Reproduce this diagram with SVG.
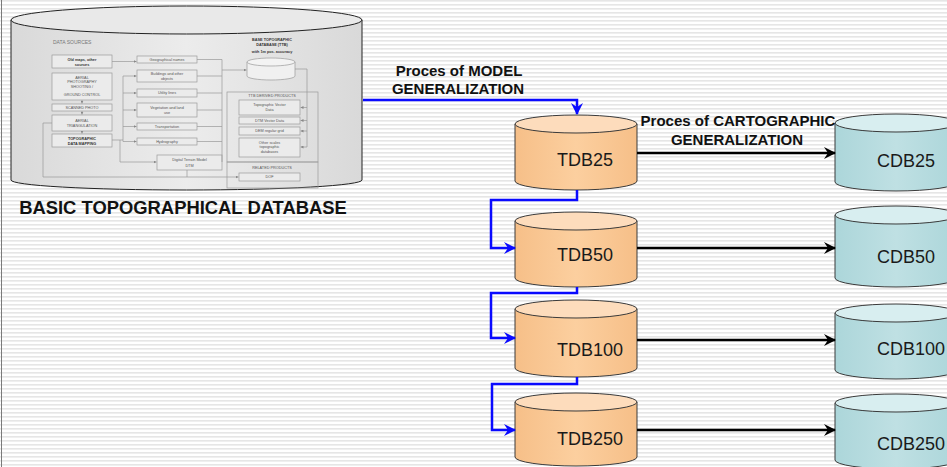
<svg xmlns="http://www.w3.org/2000/svg" width="947" height="467" viewBox="0 0 947 467">
<defs>
<pattern id="stripes" x="0" y="0" width="8" height="4" patternUnits="userSpaceOnUse">
<rect x="0" y="0" width="8" height="4" fill="#ffffff"/>
<rect x="0" y="0" width="8" height="1.6" fill="#e6e6e6"/>
</pattern>
<linearGradient id="gBig" x1="0" y1="0" x2="1" y2="0">
<stop offset="0" stop-color="#d9d9d9"/>
<stop offset="0.5" stop-color="#ececec"/>
<stop offset="1" stop-color="#d9d9d9"/>
</linearGradient>
<linearGradient id="gT" x1="0" y1="0" x2="1" y2="0">
<stop offset="0" stop-color="#f6bf88"/>
<stop offset="0.5" stop-color="#fccf9f"/>
<stop offset="1" stop-color="#f6bf88"/>
</linearGradient>
<linearGradient id="gC" x1="0" y1="0" x2="1" y2="0">
<stop offset="0" stop-color="#acd6da"/>
<stop offset="0.5" stop-color="#bfe0e3"/>
<stop offset="1" stop-color="#acd6da"/>
</linearGradient>
<marker id="ab" viewBox="0 0 12 12" refX="11" refY="6" markerWidth="13" markerHeight="12" markerUnits="userSpaceOnUse" orient="auto">
<path d="M0,0 L12,6 L0,12 L4,6 Z" fill="#0a0aff"/>
</marker>
<marker id="ak" viewBox="0 0 12 12" refX="11" refY="6" markerWidth="13" markerHeight="12" markerUnits="userSpaceOnUse" orient="auto">
<path d="M0,0 L12,6 L0,12 L4,6 Z" fill="#000"/>
</marker>
<marker id="as" viewBox="0 0 6 6" refX="6" refY="3" markerWidth="3" markerHeight="3" markerUnits="userSpaceOnUse" orient="auto">
<path d="M0,0 L6,3 L0,6 Z" fill="#888"/>
</marker>
<style>
.lbl{font-family:"Liberation Sans",Arial,sans-serif;font-weight:bold;fill:#111;}
.db{font-family:"Liberation Sans",Arial,sans-serif;font-size:18px;fill:#1a1a1a;}
.tcyl{stroke:#3a3a3a;stroke-width:1;}
.in{fill:#ebebeb;stroke:#9a9a9a;stroke-width:0.7;}
.it{font-family:"Liberation Sans",Arial,sans-serif;font-size:3.8px;fill:#555;text-anchor:middle;}
.itb{font-family:"Liberation Sans",Arial,sans-serif;font-size:3.8px;fill:#333;font-weight:bold;text-anchor:middle;}
.il{fill:none;stroke:#9a9a9a;stroke-width:0.7;}
.blue{fill:none;stroke:#0a0aff;stroke-width:2.5;}
.blk{fill:none;stroke:#000;stroke-width:2.5;}
</style>
</defs>

<rect x="0" y="0" width="947" height="467" fill="url(#stripes)"/>
<line x1="1.5" y1="0" x2="1.5" y2="467" stroke="#7a7a7a" stroke-width="1"/>

<g id="basic-db">
<path d="M11,20 V180 A175.5,10 0 0 0 362,180 V20 Z" fill="url(#gBig)" stroke="#222" stroke-width="1"/>
<ellipse cx="186.5" cy="20" rx="175.5" ry="14" fill="#e9e9e9" stroke="#222" stroke-width="1"/>
<g id="inner-diagram">
<text x="53" y="44" font-family="Liberation Sans, Arial, sans-serif" font-size="5" fill="#777">DATA SOURCES</text>
<text x="272" y="41" class="itb">BASE TOPOGRAPHIC</text>
<text x="272" y="46" class="itb">DATABASE (TTB)</text>
<text x="272" y="53" class="itb">with 1m pos. accuracy</text>

<rect class="in" x="52" y="55" width="60" height="13"/>
<text class="itb" x="82" y="60.5">Old maps, other</text>
<text class="itb" x="82" y="65.5">sources</text>
<rect class="in" x="52" y="73" width="60" height="27"/>
<text class="it" x="82" y="78.5">AERIAL</text>
<text class="it" x="82" y="83">PHOTOGRAPHY</text>
<text class="it" x="82" y="87.5">SHOOTING /</text>
<text class="it" x="82" y="96">GROUND CONTROL</text>
<rect class="in" x="52" y="104" width="60" height="7"/>
<text class="it" x="82" y="109">SCANNED PHOTO</text>
<rect class="in" x="52" y="115" width="60" height="16"/>
<text class="it" x="82" y="121.5">AERIAL</text>
<text class="it" x="82" y="127">TRIANGULATION</text>
<rect class="in" x="52" y="134" width="60" height="13"/>
<text class="itb" x="82" y="139.5">TOPOGRAPHIC</text>
<text class="itb" x="82" y="144.5">DATA MAPPING</text>

<rect class="in" x="137" y="56" width="60" height="7"/>
<text class="it" x="167" y="61">Geographical names</text>
<rect class="in" x="137" y="70" width="60" height="12"/>
<text class="it" x="167" y="75">Buildings and other</text>
<text class="it" x="167" y="79.5">objects</text>
<rect class="in" x="137" y="89" width="60" height="8"/>
<text class="it" x="167" y="94.3">Utility lines</text>
<rect class="in" x="137" y="103" width="60" height="14"/>
<text class="it" x="167" y="108.5">Vegetation and land</text>
<text class="it" x="167" y="113.5">use</text>
<rect class="in" x="137" y="123" width="60" height="7"/>
<text class="it" x="167" y="128">Transportation</text>
<rect class="in" x="137" y="138" width="60" height="7"/>
<text class="it" x="167" y="143">Hydrography</text>
<rect class="in" x="157" y="155" width="65" height="15"/>
<text class="it" x="189.5" y="160.5">Digital Terrain Model</text>
<text class="it" x="189.5" y="167">DTM</text>

<path d="M247,62 V76 A24,4 0 0 0 295,76 V62 Z" fill="#f0f0f0" stroke="#9a9a9a" stroke-width="0.7"/>
<ellipse cx="271" cy="62" rx="24" ry="4" fill="#f3f3f3" stroke="#9a9a9a" stroke-width="0.7"/>

<rect x="227" y="92" width="91" height="70" fill="none" stroke="#9a9a9a" stroke-width="0.7"/>
<text class="it" x="272" y="96.5" font-size="3.3">TTB DERIVED PRODUCTS</text>
<rect class="in" x="239" y="100" width="61" height="15"/>
<text class="it" x="269.5" y="106">Topographic Vector</text>
<text class="it" x="269.5" y="111">Data</text>
<rect class="in" x="239" y="117" width="61" height="7"/>
<text class="it" x="269.5" y="122">DTM Vector Data</text>
<rect class="in" x="239" y="127" width="61" height="8"/>
<text class="it" x="269.5" y="132.3">DEM regular grid</text>
<rect class="in" x="239" y="138" width="61" height="19"/>
<text class="it" x="269.5" y="143.5">Other scales</text>
<text class="it" x="269.5" y="148">topographic</text>
<text class="it" x="269.5" y="152.5">databases</text>
<rect x="227" y="162" width="91" height="26" fill="none" stroke="#9a9a9a" stroke-width="0.7"/>
<text class="it" x="272" y="169" font-size="3.3">RELATED PRODUCTS</text>
<rect class="in" x="239" y="173" width="61" height="8"/>
<text class="it" x="269.5" y="178.3">DOF</text>

<path class="il" d="M82,100 V103.5" marker-end="url(#as)"/>
<path class="il" d="M82,111 V114.5" marker-end="url(#as)"/>
<path class="il" d="M82,131 V133.5" marker-end="url(#as)"/>
<path class="il" d="M112,61.5 H136.5" marker-end="url(#as)"/>
<path class="il" d="M112,140 H123 M123,76 V141.5"/>
<path class="il" d="M123,76 H136.5" marker-end="url(#as)"/>
<path class="il" d="M123,93 H136.5" marker-end="url(#as)"/>
<path class="il" d="M123,110 H136.5" marker-end="url(#as)"/>
<path class="il" d="M123,126.5 H136.5" marker-end="url(#as)"/>
<path class="il" d="M123,141.5 H136.5" marker-end="url(#as)"/>
<path class="il" d="M120,140 V162 H156.5" marker-end="url(#as)"/>
<path class="il" d="M197,59.5 H222 V162 M197,76 H222 M197,93 H222 M197,110 H222 M197,126.5 H222 M197,141.5 H222"/>
<path class="il" d="M222,70 H246.5" marker-end="url(#as)"/>
<path class="il" d="M295,69 H307 V147"/>
<path class="il" d="M307,107.5 H300.5" marker-end="url(#as)"/>
<path class="il" d="M307,120.5 H300.5" marker-end="url(#as)"/>
<path class="il" d="M307,131 H300.5" marker-end="url(#as)"/>
<path class="il" d="M307,147 H300.5" marker-end="url(#as)"/>
<path class="il" d="M52,123 H43 V177 H238.5" marker-end="url(#as)"/>
<path class="il" d="M187,170 V177"/>
</g>
<text class="lbl" x="183" y="214" font-size="18.4" text-anchor="middle">BASIC TOPOGRAPHICAL DATABASE</text>
</g>

<g id="tdb25">
<path class="tcyl" d="M515,124 V181 A61,9 0 0 0 637,181 V124 Z" fill="url(#gT)"/>
<ellipse class="tcyl" cx="576" cy="124" rx="61" ry="9" fill="#fddcbc"/>
<text class="db" x="557" y="166">TDB25</text>
</g>
<g id="tdb50">
<path class="tcyl" d="M515,221 V278 A61,9 0 0 0 637,278 V221 Z" fill="url(#gT)"/>
<ellipse class="tcyl" cx="576" cy="221" rx="61" ry="9" fill="#fddcbc"/>
<text class="db" x="557" y="261">TDB50</text>
</g>
<g id="tdb100">
<path class="tcyl" d="M515,309 V368 A61,9 0 0 0 637,368 V309 Z" fill="url(#gT)"/>
<ellipse class="tcyl" cx="576" cy="309" rx="61" ry="9" fill="#fddcbc"/>
<text class="db" x="557" y="356">TDB100</text>
</g>
<g id="tdb250">
<path class="tcyl" d="M515,402 V457 A61,9 0 0 0 637,457 V402 Z" fill="url(#gT)"/>
<ellipse class="tcyl" cx="576" cy="402" rx="61" ry="9" fill="#fddcbc"/>
<text class="db" x="557" y="445">TDB250</text>
</g>

<g id="cdb25">
<path class="tcyl" d="M835,123 V182 A61,9 0 0 0 957,182 V123 Z" fill="url(#gC)"/>
<ellipse class="tcyl" cx="896" cy="123" rx="61" ry="9" fill="#d8eef0"/>
<text class="db" x="877" y="167">CDB25</text>
</g>
<g id="cdb50">
<path class="tcyl" d="M835,215 V278 A61,9 0 0 0 957,278 V215 Z" fill="url(#gC)"/>
<ellipse class="tcyl" cx="896" cy="215" rx="61" ry="9" fill="#d8eef0"/>
<text class="db" x="877" y="263">CDB50</text>
</g>
<g id="cdb100">
<path class="tcyl" d="M835,313 V370 A61,9 0 0 0 957,370 V313 Z" fill="url(#gC)"/>
<ellipse class="tcyl" cx="896" cy="313" rx="61" ry="9" fill="#d8eef0"/>
<text class="db" x="877" y="355">CDB100</text>
</g>
<g id="cdb250">
<path class="tcyl" d="M835,403 V460 A61,9 0 0 0 957,460 V403 Z" fill="url(#gC)"/>
<ellipse class="tcyl" cx="896" cy="403" rx="61" ry="9" fill="#d8eef0"/>
<text class="db" x="877" y="450">CDB250</text>
</g>

<g id="connectors">
<path class="blue" d="M363,100 H577 V114" marker-end="url(#ab)"/>
<path class="blue" d="M577,190 V200 H491 V248 H515" marker-end="url(#ab)"/>
<path class="blue" d="M577,287 V293 H491 V338 H515" marker-end="url(#ab)"/>
<path class="blue" d="M577,377 V384 H492 V430 H515" marker-end="url(#ab)"/>
<path class="blk" d="M637,153 H835" marker-end="url(#ak)"/>
<path class="blk" d="M637,248 H835" marker-end="url(#ak)"/>
<path class="blk" d="M637,340 H835" marker-end="url(#ak)"/>
<path class="blk" d="M637,430 H835" marker-end="url(#ak)"/>
</g>

<g id="labels">
<text class="lbl" x="459" y="76" font-size="15" text-anchor="middle">Proces of MODEL</text>
<text class="lbl" x="458" y="94" font-size="15" text-anchor="middle">GENERALIZATION</text>
<text class="lbl" x="738" y="126" font-size="15" text-anchor="middle">Proces of CARTOGRAPHIC</text>
<text class="lbl" x="737" y="145" font-size="15" text-anchor="middle">GENERALIZATION</text>
</g>
</svg>
